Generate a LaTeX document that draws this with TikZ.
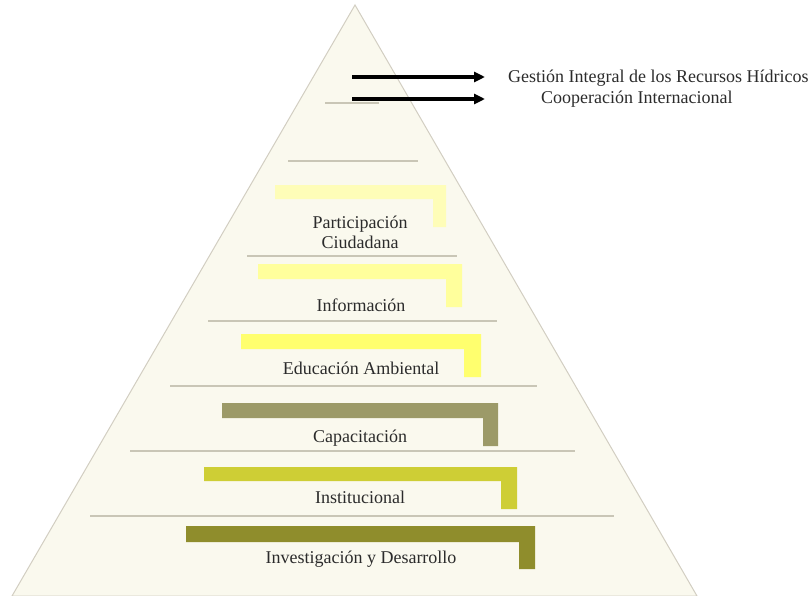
\documentclass[tikz,border=0pt]{standalone}
\usepackage{fontspec}
\setmainfont{Liberation Serif}
\usetikzlibrary{arrows.meta}
\definecolor{pyrfill}{HTML}{FAF9EE}
\definecolor{pyredge}{HTML}{D2CEC2}
\definecolor{sepline}{HTML}{C9C6B6}
\definecolor{txt}{HTML}{2B2B2B}
\definecolor{cpart}{HTML}{FEFDB8}
\definecolor{cinfo}{HTML}{FFFF9C}
\definecolor{cedu}{HTML}{FFFF6E}
\definecolor{ccap}{HTML}{9C9A68}
\definecolor{cinst}{HTML}{CECE35}
\definecolor{cinv}{HTML}{8F8D2C}
\tikzset{
  sep/.style={draw=sepline, line width=1.3pt},
  lab/.style={text=txt, font=\fontsize{18}{20}\selectfont, align=center, inner sep=0pt},
  bigarrow/.style={line width=4pt, -{Triangle[length=11pt,width=10pt]}},
}
\begin{document}
\begin{tikzpicture}[x=1pt,y=-1pt]
\useasboundingbox (0,0) rectangle (810,596);
% pyramid
\draw[fill=pyrfill, draw=pyredge, line width=1pt] (355,5) -- (697,596) -- (12,596) -- cycle;
% separator lines
\draw[sep] (325,103) -- (379,103);
\draw[sep] (288,161) -- (418,161);
\draw[sep] (247,256) -- (457,256);
\draw[sep] (208,321) -- (497,321);
\draw[sep] (170,386) -- (537,386);
\draw[sep] (130,451) -- (575,451);
\draw[sep] (90,516) -- (614,516);
% bracket bands
\fill[cpart] (275,185) -- (446,185) -- (446,227) -- (433,227) -- (433,199) -- (275,199) -- cycle;
\fill[cinfo] (258,264) -- (462,264) -- (462,307) -- (446,307) -- (446,279) -- (258,279) -- cycle;
\fill[cedu] (241,334) -- (481,334) -- (481,377) -- (464,377) -- (464,349) -- (241,349) -- cycle;
\fill[ccap] (222,403) -- (498,403) -- (498,446) -- (483,446) -- (483,418) -- (222,418) -- cycle;
\fill[cinst] (204,467) -- (517,467) -- (517,509) -- (501,509) -- (501,481) -- (204,481) -- cycle;
\fill[cinv] (186,526) -- (535,526) -- (535,569) -- (519,569) -- (519,542) -- (186,542) -- cycle;
% labels
\node[lab] (part) at (360,232) {Participación\\Ciudadana};
\node[lab] (info) at (361,305) {Información};
\node[lab] (edu) at (361,368) {Educación Ambiental};
\node[lab] (cap) at (360,438) {Capacitación};
\node[lab] (inst) at (360,497) {Institucional};
\node[lab] (inv) at (361,559) {Investigación y Desarrollo};
\node[lab, anchor=west] (gest) at (508,78) {Gestión Integral de los Recursos Hídricos};
\node[lab, anchor=west] (coop) at (541,99) {Cooperación Internacional};
% arrows
\coordinate (g0) at (352,77);
\coordinate (g1) at (485,77);
\coordinate (c0) at (352,99);
\coordinate (c1) at (485,99);
\draw[bigarrow] (g0) -- (g1);
\draw[bigarrow] (c0) -- (c1);
\end{tikzpicture}
\end{document}
